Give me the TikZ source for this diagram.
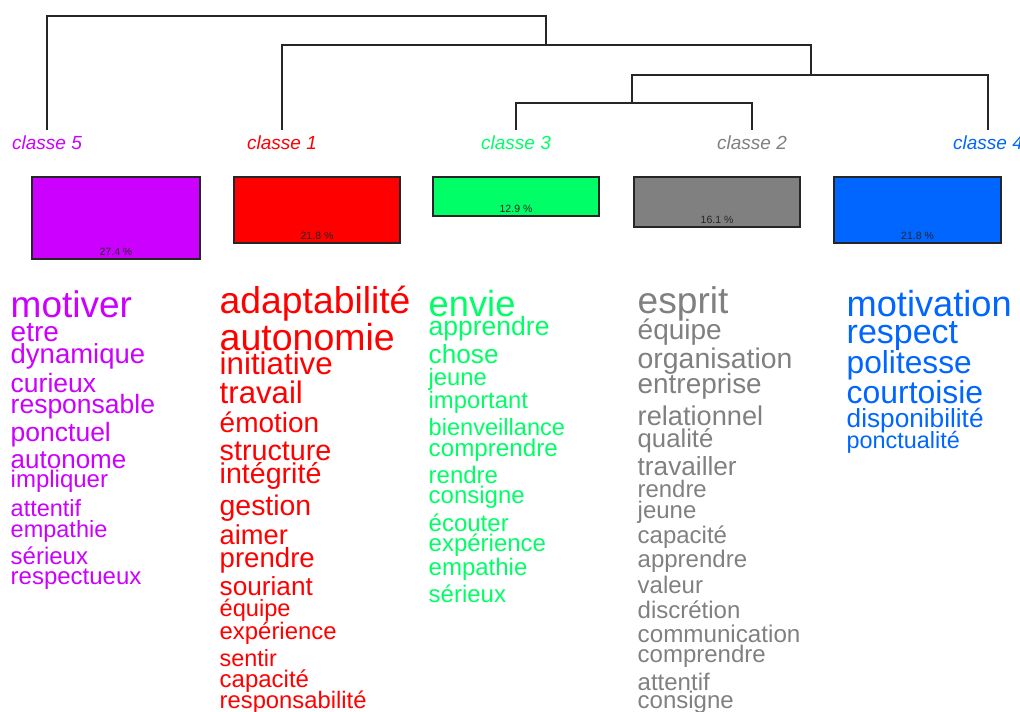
\documentclass[tikz,border=0pt]{standalone}
\usepackage{fontspec}
\setmainfont{Liberation Sans}
\definecolor{cpurple}{HTML}{CC00FF}
\definecolor{cred}{HTML}{FF0000}
\definecolor{cgreen}{HTML}{00FF66}
\definecolor{cgray}{HTML}{808080}
\definecolor{cblue}{HTML}{0066FF}
\begin{document}
\begin{tikzpicture}[x=1pt, y=-1pt,
    dendro/.style={line width=1.3pt, black!85},
    classe/.style={anchor=base, inner sep=0pt, font=\fontsize{19}{19}\selectfont\itshape},
    box/.style={draw=black!85, line width=1.2pt, inner sep=0pt, outer sep=0pt},
    pct/.style={anchor=base, inner sep=0pt, text=black!85, font=\fontsize{10.5}{10.5}\selectfont},
    word/.style={anchor=base west, inner sep=0pt}]
            \useasboundingbox (0,0) rectangle (1020,712);
            \newcommand{\fs}[1]{\fontsize{#1}{#1}\selectfont}

            % 定义点
            \coordinate (l5) at (47, 130);
            \coordinate (l1) at (282, 130);
            \coordinate (l3) at (516, 130);
            \coordinate (l2) at (752, 130);
            \coordinate (l4) at (988, 130);
            \coordinate (m32) at (632, 103);
            \coordinate (m324) at (811, 75);
            \coordinate (m3241) at (546, 45);
            \coordinate (root) at (546, 16);

            % 绘制树
            \draw[dendro] (l3) |- (m32) -| (l2);
            \draw[dendro] (m32) |- (m324) -| (l4);
            \draw[dendro] (m324) |- (m3241) -| (l1);
            \draw[dendro] (m3241) |- (root) -| (l5);

            % 类名
            \node[classe, text=cpurple] (c5) at (47, 149) {classe 5};
            \node[classe, text=cred] (c1) at (282, 149) {classe 1};
            \node[classe, text=cgreen] (c3) at (516, 149) {classe 3};
            \node[classe, text=cgray] (c2) at (752, 149) {classe 2};
            \node[classe, text=cblue] (c4) at (988, 149) {classe 4};

            % 矩形
            \node[box, fill=cpurple, minimum width=168, minimum height=82] (b5) at (116, 218) {};
            \node[box, fill=cred, minimum width=166, minimum height=66] (b1) at (317, 210) {};
            \node[box, fill=cgreen, minimum width=166, minimum height=39] (b3) at (516, 196.5) {};
            \node[box, fill=cgray, minimum width=166, minimum height=50] (b2) at (717, 202) {};
            \node[box, fill=cblue, minimum width=167, minimum height=66] (b4) at (917.5, 210) {};
            \node[pct] (p5) at ([yshift=4pt]b5.south) {27.4 \%};
            \node[pct] (p1) at ([yshift=4pt]b1.south) {21.8 \%};
            \node[pct] (p3) at ([yshift=4pt]b3.south) {12.9 \%};
            \node[pct] (p2) at ([yshift=4pt]b2.south) {16.1 \%};
            \node[pct] (p4) at ([yshift=4pt]b4.south) {21.8 \%};

            % classe 5
            \node[word, text=cpurple, font=\fs{37}] (w5a) at (10.5, 317) {motiver};
            \node[word, text=cpurple, font=\fs{28}] (w5b) at (10.5, 341) {etre};
            \node[word, text=cpurple, font=\fs{27.5}] (w5c) at (10.5, 363) {dynamique};
            \node[word, text=cpurple, font=\fs{26.5}] (w5d) at (10.5, 392) {curieux};
            \node[word, text=cpurple, font=\fs{26.5}] (w5e) at (10.5, 413) {responsable};
            \node[word, text=cpurple, font=\fs{26.5}] (w5f) at (10.5, 441) {ponctuel};
            \node[word, text=cpurple, font=\fs{26}] (w5g) at (10.5, 468) {autonome};
            \node[word, text=cpurple, font=\fs{24}] (w5h) at (10.5, 487) {impliquer};
            \node[word, text=cpurple, font=\fs{23.5}] (w5i) at (10.5, 516) {attentif};
            \node[word, text=cpurple, font=\fs{23.5}] (w5j) at (10.5, 537) {empathie};
            \node[word, text=cpurple, font=\fs{24}] (w5k) at (10.5, 564) {sérieux};
            \node[word, text=cpurple, font=\fs{24}] (w5l) at (10.5, 584) {respectueux};

            % classe 1
            \node[word, text=cred, font=\fs{37.3}] (w1a) at (219.5, 313) {adaptabilité};
            \node[word, text=cred, font=\fs{37.5}] (w1b) at (219.5, 350) {autonomie};
            \node[word, text=cred, font=\fs{31.3}] (w1c) at (219.5, 374) {initiative};
            \node[word, text=cred, font=\fs{31.2}] (w1d) at (219.5, 403) {travail};
            \node[word, text=cred, font=\fs{28}] (w1e) at (219.5, 432) {émotion};
            \node[word, text=cred, font=\fs{28.7}] (w1f) at (219.5, 460) {structure};
            \node[word, text=cred, font=\fs{28.6}] (w1g) at (219.5, 483) {intégrité};
            \node[word, text=cred, font=\fs{28.4}] (w1h) at (219.5, 515) {gestion};
            \node[word, text=cred, font=\fs{27.3}] (w1i) at (219.5, 544) {aimer};
            \node[word, text=cred, font=\fs{27.6}] (w1j) at (219.5, 567) {prendre};
            \node[word, text=cred, font=\fs{26.2}] (w1k) at (219.5, 595) {souriant};
            \node[word, text=cred, font=\fs{23.6}] (w1l) at (219.5, 616) {équipe};
            \node[word, text=cred, font=\fs{23.9}] (w1m) at (219.5, 639) {expérience};
            \node[word, text=cred, font=\fs{23.4}] (w1n) at (219.5, 666) {sentir};
            \node[word, text=cred, font=\fs{24}] (w1o) at (219.5, 687) {capacité};
            \node[word, text=cred, font=\fs{23.8}] (w1p) at (219.5, 708) {responsabilité};

            % classe 3
            \node[word, text=cgreen, font=\fs{36.3}] (w3a) at (428.5, 316) {envie};
            \node[word, text=cgreen, font=\fs{26.5}] (w3b) at (428.5, 335) {apprendre};
            \node[word, text=cgreen, font=\fs{26.2}] (w3c) at (428.5, 363) {chose};
            \node[word, text=cgreen, font=\fs{23.8}] (w3d) at (428.5, 385) {jeune};
            \node[word, text=cgreen, font=\fs{23.8}] (w3e) at (428.5, 408) {important};
            \node[word, text=cgreen, font=\fs{23.6}] (w3f) at (428.5, 435) {bienveillance};
            \node[word, text=cgreen, font=\fs{24.2}] (w3g) at (428.5, 456) {comprendre};
            \node[word, text=cgreen, font=\fs{24}] (w3h) at (428.5, 483) {rendre};
            \node[word, text=cgreen, font=\fs{24}] (w3i) at (428.5, 503) {consigne};
            \node[word, text=cgreen, font=\fs{24}] (w3j) at (428.5, 531) {écouter};
            \node[word, text=cgreen, font=\fs{24}] (w3k) at (428.5, 551) {expérience};
            \node[word, text=cgreen, font=\fs{24}] (w3l) at (428.5, 575) {empathie};
            \node[word, text=cgreen, font=\fs{24}] (w3m) at (428.5, 602) {sérieux};

            % classe 2
            \node[word, text=cgray, font=\fs{37.1}] (w2a) at (637.5, 313) {esprit};
            \node[word, text=cgray, font=\fs{28}] (w2b) at (637.5, 339) {équipe};
            \node[word, text=cgray, font=\fs{28.4}] (w2c) at (637.5, 368) {organisation};
            \node[word, text=cgray, font=\fs{27.9}] (w2d) at (637.5, 393) {entreprise};
            \node[word, text=cgray, font=\fs{27.2}] (w2e) at (637.5, 425) {relationnel};
            \node[word, text=cgray, font=\fs{25.7}] (w2f) at (637.5, 447) {qualité};
            \node[word, text=cgray, font=\fs{26.2}] (w2g) at (637.5, 475) {travailler};
            \node[word, text=cgray, font=\fs{23.9}] (w2h) at (637.5, 497) {rendre};
            \node[word, text=cgray, font=\fs{24}] (w2i) at (637.5, 518) {jeune};
            \node[word, text=cgray, font=\fs{24}] (w2j) at (637.5, 543) {capacité};
            \node[word, text=cgray, font=\fs{24}] (w2k) at (637.5, 567) {apprendre};
            \node[word, text=cgray, font=\fs{24}] (w2l) at (637.5, 593) {valeur};
            \node[word, text=cgray, font=\fs{24}] (w2m) at (637.5, 618) {discrétion};
            \node[word, text=cgray, font=\fs{24.2}] (w2n) at (637.5, 642) {communication};
            \node[word, text=cgray, font=\fs{24}] (w2o) at (637.5, 662) {comprendre};
            \node[word, text=cgray, font=\fs{24}] (w2p) at (637.5, 690) {attentif};
            \node[word, text=cgray, font=\fs{24}] (w2q) at (637.5, 708) {consigne};

            % classe 4
            \node[word, text=cblue, font=\fs{36.2}] (w4a) at (846.5, 316) {motivation};
            \node[word, text=cblue, font=\fs{34}] (w4b) at (846.5, 343) {respect};
            \node[word, text=cblue, font=\fs{31.7}] (w4c) at (846.5, 373) {politesse};
            \node[word, text=cblue, font=\fs{31.9}] (w4d) at (846.5, 403) {courtoisie};
            \node[word, text=cblue, font=\fs{26.2}] (w4e) at (846.5, 427) {disponibilité};
            \node[word, text=cblue, font=\fs{23.4}] (w4f) at (846.5, 448) {ponctualité};
        \end{tikzpicture}
\end{document}
